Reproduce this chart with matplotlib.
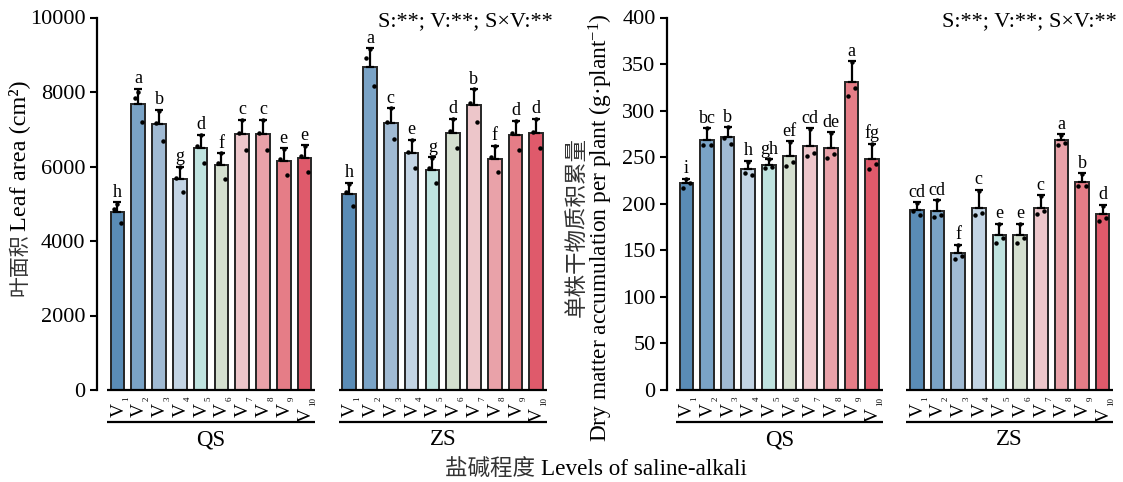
import matplotlib
matplotlib.use("Agg")
import matplotlib.pyplot as plt
import matplotlib.transforms as mtransforms
import numpy as np

plt.rcParams['font.family'] = ['Liberation Serif', 'Noto Sans CJK SC']
plt.rcParams['mathtext.fontset'] = 'custom'
plt.rcParams['mathtext.rm'] = 'Liberation Serif'
plt.rcParams['mathtext.it'] = 'Liberation Serif:italic'

# ---------------- data ----------------
tick_main = ['V'] * 10
tick_sub = ['1', '2', '3', '4', '5', '6', '7', '8', '9', '10']
groups = ['QS', 'ZS']

# Leaf area (cm2)
la_qs_mean = [4790, 7680, 7130, 5660, 6500, 6040, 6860, 6860, 6150, 6230]
la_qs_err = [250, 410, 390, 340, 350, 320, 390, 390, 340, 340]
la_zs_mean = [5270, 8680, 7170, 6350, 5910, 6900, 7650, 6210, 6850, 6890]
la_zs_err = [290, 490, 400, 370, 340, 380, 430, 350, 380, 390]
la_qs_pts = [[5000, 4850, 4480], [8000, 7850, 7190], [7500, 7180, 6690],
             [5990, 5700, 5320], [6840, 6560, 6100], [6350, 6100, 5660],
             [7240, 6900, 6430], [7240, 6900, 6430], [6480, 6200, 5780],
             [6560, 6280, 5840]]
la_zs_pts = [[5540, 5320, 4945], [9150, 8900, 8160], [7560, 7200, 6750],
             [6700, 6380, 5970], [6240, 5950, 5550], [7270, 6950, 6500],
             [8070, 7700, 7190], [6550, 6250, 5840], [7220, 6900, 6430],
             [7270, 6920, 6490]]
la_qs_letters = ['h', 'a', 'b', 'g', 'd', 'f', 'c', 'c', 'e', 'e']
la_zs_letters = ['h', 'a', 'c', 'e', 'g', 'd', 'b', 'f', 'd', 'd']

# Dry matter accumulation per plant (g/plant)
dm_qs_mean = [221.8, 268.8, 272.0, 236.9, 241.9, 251.2, 262.0, 259.5, 331.0, 247.7]
dm_qs_err = [5.2, 12.2, 10.0, 9.1, 6.1, 15.8, 19.0, 17.2, 22.0, 16.8]
dm_zs_mean = [193.5, 192.0, 147.5, 195.7, 166.0, 166.7, 195.3, 268.0, 223.7, 188.5]
dm_zs_err = [8.0, 12.0, 8.5, 19.3, 12.5, 11.8, 13.7, 6.5, 9.3, 10.5]
dm_qs_pts = [[227, 217, 222], [281, 263, 263], [282, 271, 264], [245, 233, 231],
             [248, 238, 239], [266, 241, 245], [280, 251, 255], [276, 249, 253],
             [352, 316, 324], [264, 237, 243]]
dm_zs_pts = [[201, 192, 188], [204, 186, 188], [156, 141, 144], [214, 188, 190],
             [178, 158, 163], [178, 158, 163], [208, 189, 192], [274, 263, 265],
             [232, 219, 219], [198, 182, 185]]
dm_qs_letters = ['i', 'bc', 'b', 'h', 'gh', 'ef', 'cd', 'de', 'a', 'fg']
dm_zs_letters = ['cd', 'cd', 'f', 'c', 'e', 'e', 'c', 'a', 'b', 'd']

sig_text = 'S:**; V:**; S×V:**'

colors = ['#5a8cb6', '#7aa3c6', '#a0bad3', '#c3d4e4', '#bfe3df',
          '#d4dfcf', '#edc6ca', '#e9a2a9', '#e57d87', '#df5a6b']

# ---------------- figure ----------------
W, H = 1123, 482
fig = plt.figure(figsize=(W / 100, H / 100), dpi=100)

ax_bottom = (H - 390) / H
ax_height = (390 - 17.5) / H
ax1 = fig.add_axes([96.7 / W, ax_bottom, 450 / W, ax_height])
ax2 = fig.add_axes([666.7 / W, ax_bottom, 446.3 / W, ax_height])

zs_offset = 11.15
bar_w = 0.66
pt_off = [0.0, -0.17, 0.17]
PX = 0.72  # points per pixel at dpi 100


def draw_panel(ax, qs_mean, qs_err, qs_pts, qs_let, zs_mean, zs_err, zs_pts,
               zs_let, ymax, ystep, letter_pad, xlim_left, sig_right):
    for g, (mean, err, pts, lets) in enumerate([(qs_mean, qs_err, qs_pts, qs_let),
                                                  (zs_mean, zs_err, zs_pts, zs_let)]):
        x = np.arange(len(mean)) + g * zs_offset
        ax.bar(x, mean, width=bar_w, color=colors, edgecolor='#262626',
               linewidth=1.4, zorder=2)
        ax.errorbar(x, mean, yerr=[np.zeros(len(err)), err], fmt='none',
                    ecolor='black', elinewidth=1.6, capsize=3, capthick=1.6,
                    zorder=3)
        for i in range(len(mean)):
            for k in range(3):
                ax.plot(x[i] + pt_off[k], pts[i][k], 'o', color='black',
                        markersize=2.2, zorder=4)
            ax.text(x[i], mean[i] + err[i] + letter_pad, lets[i],
                    ha='center', va='bottom', fontsize=13, zorder=5)
            # rotated tick label: V + small subscript
            sub = tick_sub[i]
            v_end = -13 if len(sub) == 1 else -17.5
            ax.annotate(tick_main[i], xy=(x[i], 0), xycoords='data',
                        xytext=(5.8 * PX, v_end * PX), textcoords='offset points',
                        rotation=90, rotation_mode='anchor', ha='right',
                        va='baseline', fontsize=14, annotation_clip=False)
            ax.annotate(sub, xy=(x[i], 0), xycoords='data',
                        xytext=(10.3 * PX, -6.5 * PX), textcoords='offset points',
                        rotation=90, rotation_mode='anchor', ha='right',
                        va='baseline', fontsize=6.5, annotation_clip=False)
        # baseline segment
        ax.plot([x[0] - 0.5, x[-1] + 0.5], [0, 0], color='black', lw=1.6,
                solid_capstyle='butt', zorder=5, clip_on=False)
        # underline + group label
        trans = mtransforms.blended_transform_factory(ax.transData, ax.transAxes)
        ax.plot([x[0] - 0.5, x[-1] + 0.5], [-0.086, -0.086], color='black',
                lw=1.6, transform=trans, clip_on=False, solid_capstyle='butt')
        ax.text((x[0] + x[-1]) / 2, -0.134, groups[g], transform=trans,
                ha='center', va='center', fontsize=16.5)
    ax.set_xticks([])
    ax.set_xlim(xlim_left, zs_offset + 9.5)
    ax.set_ylim(0, ymax)
    ax.set_yticks(np.arange(0, ymax + 1, ystep))
    ax.tick_params(axis='y', direction='out', length=5, width=1.5,
                   labelsize=16, pad=3)
    for s in ['top', 'right', 'bottom']:
        ax.spines[s].set_visible(False)
    ax.spines['left'].set_linewidth(1.6)
    ax.text(sig_right, 0.99, sig_text, transform=ax.transAxes, ha='right',
            va='center', fontsize=16)


draw_panel(ax1, la_qs_mean, la_qs_err, la_qs_pts, la_qs_letters,
           la_zs_mean, la_zs_err, la_zs_pts, la_zs_letters,
           10000, 2000, 40, -1.0, 1.014)
draw_panel(ax2, dm_qs_mean, dm_qs_err, dm_qs_pts, dm_qs_letters,
           dm_zs_mean, dm_zs_err, dm_zs_pts, dm_zs_letters,
           400, 50, 1.6, -0.95, 1.008)

cjk_color = '#333333'

# left y label: Chinese part + English part sharing one baseline
fig.text(25 / W, 1 - 231 / H, 'Leaf area (cm²)', rotation=90,
         rotation_mode='anchor', ha='left', va='baseline', fontsize=17.5)
fig.text(25 / W, 1 - 233 / H, '叶面积', rotation=90, color=cjk_color,
         rotation_mode='anchor', ha='right', va='baseline', fontsize=15,
         fontweight='light')

# right y label (two lines)
fig.text(577 / W, 1 - 227 / H, '单株干物质积累量', rotation=90,
         ha='center', va='center', fontsize=16.2, color=cjk_color,
         fontweight='light')
fig.text(601 / W, 1 - 228 / H, 'Dry matter accumulation per plant (g·plant$^{-1}$)',
         rotation=90, ha='center', va='center', fontsize=16.8)

# x label: Chinese part + English part
fig.text(541 / W, 1 - 475 / H, '盐碱程度 ', ha='right', va='baseline',
         fontsize=16.2, color=cjk_color, fontweight='light')
fig.text(541 / W, 1 - 475 / H, 'Levels of saline-alkali', ha='left',
         va='baseline', fontsize=16.7)

fig.savefig('out.png', dpi=100)
